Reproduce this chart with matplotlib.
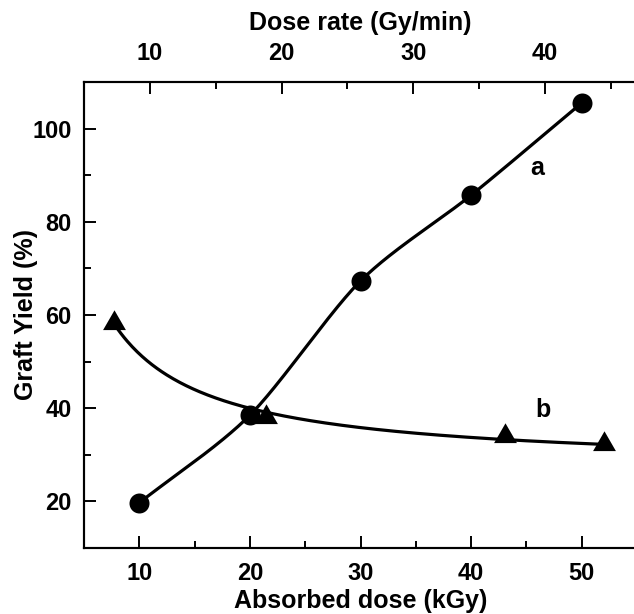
import matplotlib
matplotlib.use("Agg")
import matplotlib.pyplot as plt
from matplotlib.ticker import MultipleLocator
import numpy as np

plt.rcParams['font.family'] = ['Liberation Sans', 'DejaVu Sans']
plt.rcParams['font.weight'] = 'bold'

# Series a: graft yield vs absorbed dose (bottom axis)
dose_a = [10, 20, 30, 40, 50]
yield_a = [19.7, 38.5, 67.3, 85.7, 105.5]

# Series b: graft yield vs dose rate (top axis)
rate_b = [7.3, 18.8, 37.0, 44.5]
yield_b = [58.3, 38.1, 34.0, 32.3]

curve_labels = ['a', 'b']


# Parametric cardinal spline through the points (tension c)
def cardinal(x, y, c=0.15, steps=60):
    p = np.column_stack([x, y]).astype(float)
    n = len(p)
    m = np.empty_like(p)
    m[1:-1] = (p[2:] - p[:-2]) / 2
    m[0] = p[1] - p[0]
    m[-1] = p[-1] - p[-2]
    m *= (1 - c)
    t = np.linspace(0, 1, steps)[:, None]
    h00 = 2 * t**3 - 3 * t**2 + 1
    h10 = t**3 - 2 * t**2 + t
    h01 = -2 * t**3 + 3 * t**2
    h11 = t**3 - t**2
    segs = [h00 * p[i] + h10 * m[i] + h01 * p[i + 1] + h11 * m[i + 1] for i in range(n - 1)]
    out = np.vstack(segs)
    return out[:, 0], out[:, 1]


W, H = 634, 614
fig = plt.figure(figsize=(W / 100, H / 100), dpi=100)
ax = fig.add_axes([84 / W, (H - 548) / H, (637 - 84) / W, (548 - 82) / H])
top = ax.twiny()

# triangle centred on its centroid
tri = [(0, 1.155), (-1, -0.577), (1, -0.577)]

xa, ya = cardinal(dose_a, yield_a)
ax.plot(xa, ya, color='black', lw=2.3, zorder=2)
ax.plot(dose_a, yield_a, 'o', color='black', ms=14.4, mew=0, zorder=3)

# b follows a y = A + B/x trend
B, A = np.polyfit(1 / np.array(rate_b), yield_b, 1)
xb = np.linspace(rate_b[0], rate_b[-1], 300)
top.plot(xb, A + B / xb, color='black', lw=2.3, zorder=2)
top.plot(rate_b, yield_b, marker=tri, ls='none', color='black', ms=19, mew=0, zorder=3)

ax.set_xlim(5, 55)
ax.set_ylim(10, 110)
top.set_xlim(5, 47)

ax.xaxis.set_major_locator(MultipleLocator(10))
ax.xaxis.set_minor_locator(MultipleLocator(5))
ax.yaxis.set_major_locator(MultipleLocator(20))
ax.yaxis.set_minor_locator(MultipleLocator(10))
top.xaxis.set_major_locator(MultipleLocator(10))
top.xaxis.set_minor_locator(MultipleLocator(5))

for a in (ax, top):
    for s in a.spines.values():
        s.set_linewidth(1.5)
ax.tick_params(axis='both', which='both', direction='in', width=1.4,
               top=False, right=False, labelsize=17)
ax.tick_params(which='major', length=8.3)
ax.tick_params(which='minor', length=4.8)
ax.tick_params(axis='x', pad=10)
ax.tick_params(axis='y', pad=9)
top.tick_params(axis='x', which='both', direction='in', width=1.4, labelsize=17, pad=12)
top.tick_params(which='major', length=8.3)
top.tick_params(which='minor', length=4.8)

ax.set_xlabel('Absorbed dose (kGy)', fontsize=18, fontweight='bold', labelpad=3)
ax.set_ylabel('Graft Yield (%)', fontsize=18, fontweight='bold', labelpad=-4)
top.set_xlabel('Dose rate (Gy/min)', fontsize=18, fontweight='bold', labelpad=9)

ax.text(46.0, 91.5, curve_labels[0], fontsize=18, fontweight='bold', ha='center', va='center')
ax.text(46.5, 39.6, curve_labels[1], fontsize=18, fontweight='bold', ha='center', va='center')

fig.savefig('out.png', dpi=100)
